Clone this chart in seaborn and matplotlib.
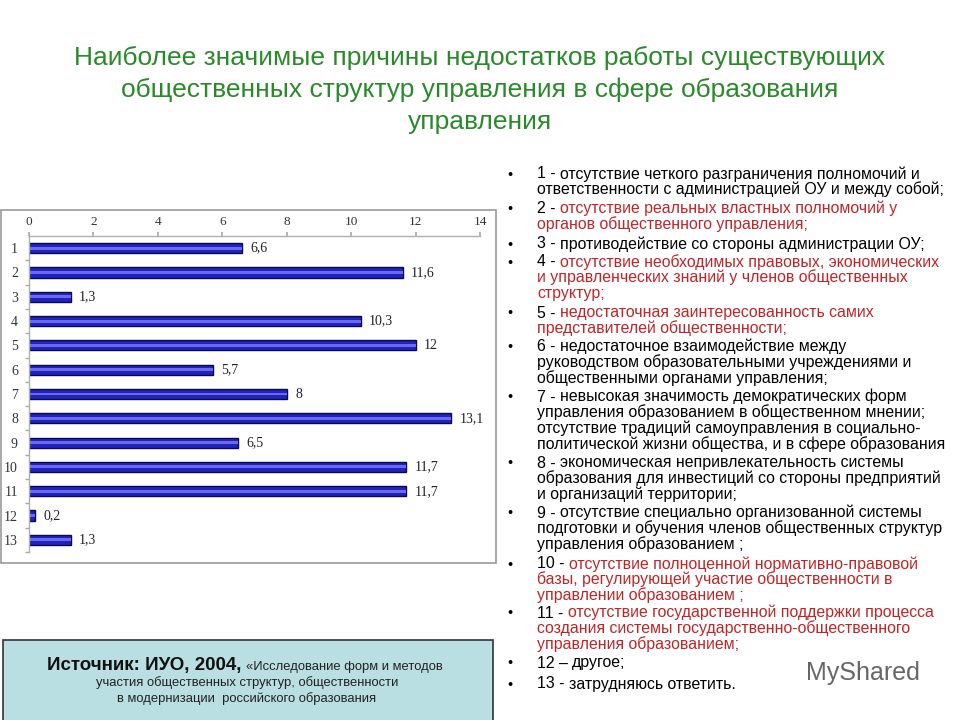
import matplotlib
matplotlib.use("Agg")
import matplotlib.pyplot as plt
import seaborn as sns
import pandas as pd
from matplotlib.patches import Rectangle

categories = [str(i) for i in range(1, 14)]
values = [6.6, 11.6, 1.3, 10.3, 12, 5.7, 8, 13.1, 6.5, 11.7, 11.7, 0.2, 1.3]
value_labels = ["6,6", "11,6", "1,3", "10,3", "12", "5,7", "8", "13,1", "6,5", "11,7", "11,7", "0,2", "1,3"]
x_ticks = [0, 2, 4, 6, 8, 10, 12, 14]

title_lines = [
    "Наиболее значимые причины недостатков работы существующих",
    "общественных структур управления в сфере образования",
    "управления",
]

legend_items = [
    ("1 - ", ["отсутствие четкого разграничения полномочий и",
              "ответственности с администрацией ОУ и между собой;"], "black"),
    ("2 - ", ["отсутствие реальных властных полномочий у",
              "органов общественного управления;"], "red"),
    ("3 - ", ["противодействие со стороны администрации ОУ;"], "black"),
    ("4 - ", ["отсутствие необходимых правовых, экономических",
              "и управленческих знаний у членов общественных",
              "структур;"], "red"),
    ("5 - ", ["недостаточная заинтересованность самих",
              "представителей общественности;"], "red"),
    ("6 - ", ["недостаточное взаимодействие между",
              "руководством образовательными учреждениями и",
              "общественными органами управления;"], "black"),
    ("7 - ", ["невысокая значимость демократических форм",
              "управления образованием в общественном мнении;",
              "отсутствие традиций самоуправления в социально-",
              "политической жизни общества, и в сфере образования"], "black"),
    ("8 - ", ["экономическая непривлекательность системы",
              "образования для инвестиций со стороны предприятий",
              "и организаций территории;"], "black"),
    ("9 - ", ["отсутствие специально организованной системы",
              "подготовки и обучения членов общественных структур",
              "управления образованием ;"], "black"),
    ("10 - ", ["отсутствие полноценной нормативно-правовой",
               "базы, регулирующей участие общественности в",
               "управлении образованием ;"], "red"),
    ("11 - ", ["отсутствие государственной поддержки процесса",
               "создания системы государственно-общественного",
               "управления образованием;"], "red"),
    ("12 – ", ["другое;"], "black"),
    ("13 - ", ["затрудняюсь ответить."], "black"),
]

sns.set_theme(style="white")
plt.rcParams["font.family"] = ["Liberation Sans", "DejaVu Sans"]

W, H = 960, 720
fig = plt.figure(figsize=(9.6, 7.2), dpi=100)
fig.patch.set_facecolor("white")


def P(x, y):
    return (x / W, 1 - y / H)


# chart frame
fig.patches.append(Rectangle(P(1, 563), 495 / W, 353 / H, transform=fig.transFigure,
                             fill=False, edgecolor="#9a9a9a", lw=1.2, zorder=0))

ax_left, ax_right, ax_top, ax_bot = 29, 480, 236, 552
ax = fig.add_axes([ax_left / W, 1 - ax_bot / H, (ax_right - ax_left) / W, (ax_bot - ax_top) / H])

df = pd.DataFrame({"cat": categories, "val": values})
sns.barplot(data=df, x="val", y="cat", order=categories, orient="h", ax=ax,
            color="#2222c0", edgecolor="#0a0a45", linewidth=1.0, width=0.42, saturation=1)
cont = ax.containers[0]
sns.barplot(data=df, x="val", y="cat", order=categories, orient="h", ax=ax,
            color="#6a6af0", linewidth=0, width=0.12, saturation=1)
ax.bar_label(cont, labels=value_labels, padding=6, fontsize=10,
             family="Liberation Serif", color="#222222")

ax.set_xlim(0, 14)
ax.set_xticks(x_ticks)
ax.set_xticklabels([str(t) for t in x_ticks], family="Liberation Serif", fontsize=9.5)
ax.set_yticks(range(len(categories)))
ax.set_yticklabels(categories, family="Liberation Serif", fontsize=10)
ax.set_ylim(len(categories) - 0.5, -0.5)
ax.xaxis.tick_top()
ax.set_xlabel("")
ax.set_ylabel("")
ax.tick_params(axis="x", colors="#333333", length=3, pad=3, direction="out",
               top=True, bottom=False, color="#aaaaaa")
ax.tick_params(axis="y", colors="#333333", length=0, pad=8)
ax.set_yticks([i + 0.5 for i in range(13)], minor=True)
ax.tick_params(axis="y", which="minor", length=3, color="#aaaaaa", left=True)
for s in ["right", "bottom"]:
    ax.spines[s].set_visible(False)
for s in ["top", "left"]:
    ax.spines[s].set_color("#b0b0b0")
    ax.spines[s].set_linewidth(1.0)
ax.set_facecolor("white")

# title
for i, line in enumerate(title_lines):
    fig.text(*P(480, 58 + 32 * i), line, ha="center", va="center", fontsize=19,
             color="#2a8a2a")

# legend list (baseline aligned)
fig.canvas.draw()
renderer = fig.canvas.get_renderer()
starts = [173, 208, 243, 261, 312, 346, 396, 462, 512, 563, 612, 662, 683]
step = 15.8
red = "#bb262a"
fs = 11.4
bl = 5.5
for (prefix, lines, col), y0 in zip(legend_items, starts):
    fig.text(*P(507, y0 + bl), "•", ha="left", va="baseline", fontsize=fs - 1, color="black")
    t = fig.text(*P(537, y0 + bl), prefix, ha="left", va="baseline", fontsize=fs, color="black")
    wpx = t.get_window_extent(renderer).width
    c = red if col == "red" else "black"
    fig.text((537 + wpx) / W, 1 - (y0 + bl) / H, lines[0], ha="left", va="baseline",
             fontsize=fs, color=c)
    for j, ln in enumerate(lines[1:], start=1):
        fig.text(*P(537, y0 + bl + step * j), ln, ha="left", va="baseline", fontsize=fs, color=c)

# source box
fig.patches.append(Rectangle(P(3, 722), 490 / W, 82 / H, transform=fig.transFigure,
                             facecolor="#b9dfe2", edgecolor="#333333", lw=1.2, zorder=1))
t1 = fig.text(0, 0, "Источник: ИУО, 2004, ", fontsize=13.5, fontweight="bold", color="#111111",
              va="baseline")
t2 = fig.text(0, 0, "«Исследование форм и методов", fontsize=9.4, color="#222222",
              va="baseline")
w1 = t1.get_window_extent(renderer).width
w2 = t2.get_window_extent(renderer).width
x0 = 245 - (w1 + w2) / 2
t1.set_position(P(x0, 670))
t2.set_position(P(x0 + w1, 670))
fig.text(*P(247, 683), "участия общественных структур, общественности", ha="center",
         va="center", fontsize=9.4, color="#222222")
fig.text(*P(247, 699), "в модернизации  российского образования", ha="center",
         va="center", fontsize=9.4, color="#222222")

# watermark
fig.text(*P(806, 673), "MyShared", ha="left", va="center", fontsize=18, color="#666666")

fig.savefig("out.png", dpi=100, facecolor="white")
